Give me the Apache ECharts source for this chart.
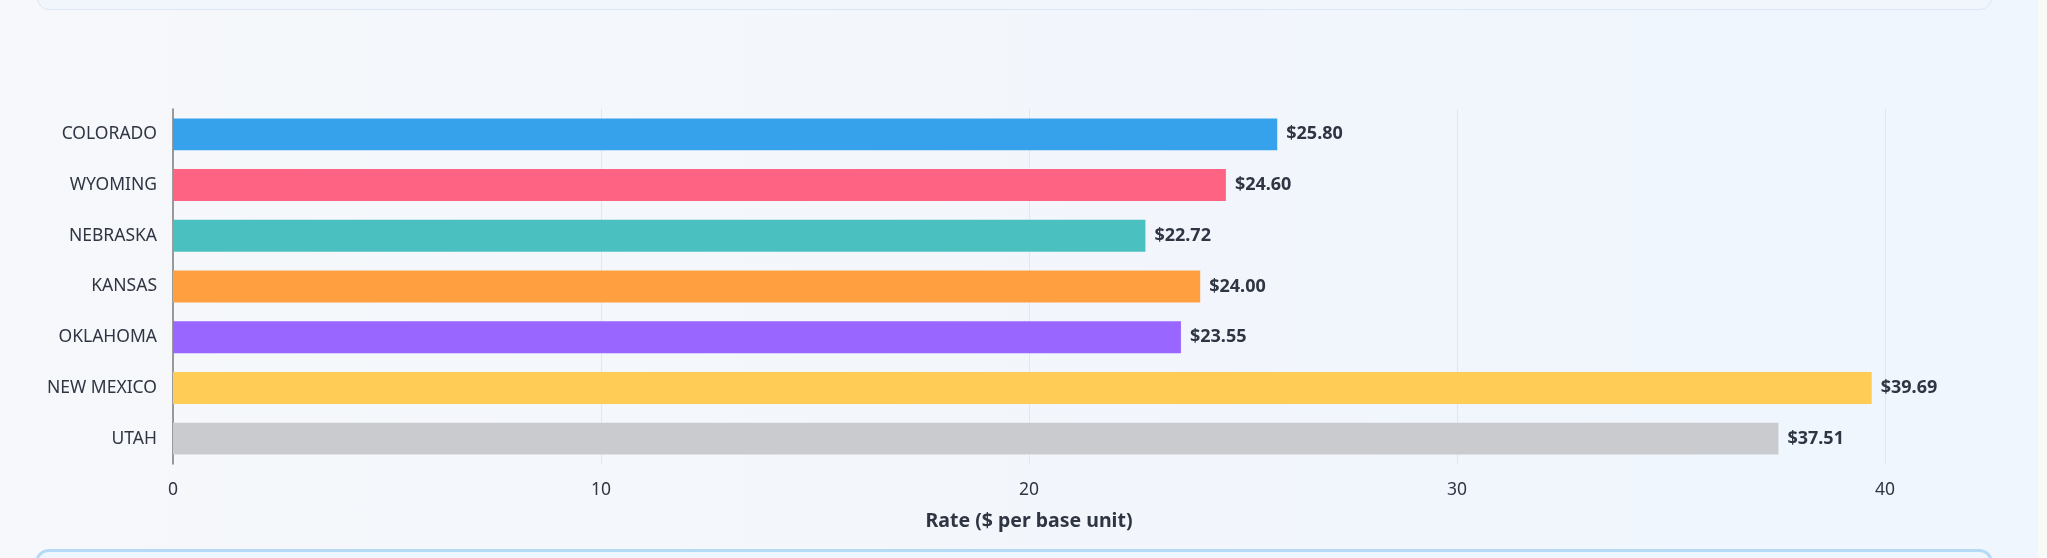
<!DOCTYPE html>
<html>
<head>
<meta charset="utf-8">
<script src="https://cdn.jsdelivr.net/npm/echarts@6/dist/echarts.min.js"></script>
<style>
    html, body { margin: 0; padding: 0; background: #f9f9f7; }
    #wrap {
        position: relative;
        width: 2038px;
        height: 558px;
        overflow: hidden;
        background: linear-gradient(90deg, #f6f8fb 0%, #f2f6fc 60%, #eff6fe 100%);
    }
    .card-top {
        position: absolute; left: 37px; top: -30px; width: 1953px; height: 38px;
        border: 1px solid #dbe7f6; border-radius: 12px; background: #f1f6fd;
    }
    .card-bottom {
        position: absolute; left: 35px; top: 549px; width: 1952px; height: 60px;
        border: 3px solid #b6daf6; border-radius: 14px; background: #eef6fe;
    }
    #chart { position: absolute; left: 0; top: 0; width: 2047px; height: 558px; }
</style>
</head>
<body>
<div id="wrap">
    <div class="card-top"></div>
    <div class="card-bottom"></div>
</div>
<div id="chart"></div>
<script>
    var states = ['COLORADO', 'WYOMING', 'NEBRASKA', 'KANSAS', 'OKLAHOMA', 'NEW MEXICO', 'UTAH'];
    var rates = [25.80, 24.60, 22.72, 24.00, 23.55, 39.69, 37.51];
    var barColors = ['#36a2eb', '#ff6384', '#4bc0c0', '#ff9f40', '#9966ff', '#ffcd56', '#c9cbcf'];

    var textColor = '#2f3542';
    var font = '"Noto Sans", "Open Sans", sans-serif';

    var myChart = echarts.init(document.getElementById('chart'));

    var option = {
        animation: false,
        grid: {
            left: 173,
            right: 162,
            top: 109,
            bottom: 94,
            containLabel: false
        },
        xAxis: {
            type: 'value',
            min: 0,
            max: 40,
            interval: 10,
            name: 'Rate ($ per base unit)',
            nameLocation: 'middle',
            nameGap: 47,
            nameTextStyle: {
                color: textColor,
                fontFamily: font,
                fontSize: 19.5,
                fontWeight: 'bold'
            },
            axisLine: { show: false },
            axisTick: { show: false },
            axisLabel: {
                color: textColor,
                fontFamily: font,
                fontSize: 17.5,
                margin: 17
            },
            splitLine: {
                show: true,
                lineStyle: { color: '#e2e7ef', width: 1 }
            }
        },
        yAxis: {
            type: 'category',
            data: states,
            inverse: true,
            axisLine: {
                show: true,
                lineStyle: { color: '#7d7d7d', width: 1.5 }
            },
            axisTick: { show: false },
            axisLabel: {
                color: textColor,
                fontFamily: font,
                fontSize: 17.5,
                margin: 16
            },
            splitLine: { show: false }
        },
        series: [{
            name: 'Rate',
            type: 'bar',
            barWidth: '63%',
            data: rates.map(function (v, i) {
                return { value: v, itemStyle: { color: barColors[i] } };
            }),
            label: {
                show: true,
                position: 'right',
                distance: 9,
                color: textColor,
                fontFamily: font,
                fontSize: 18,
                fontWeight: 'bold',
                formatter: function (p) {
                    return '$' + p.value.toFixed(2);
                }
            }
        }]
    };

    myChart.setOption(option);
</script>
</body>
</html>
